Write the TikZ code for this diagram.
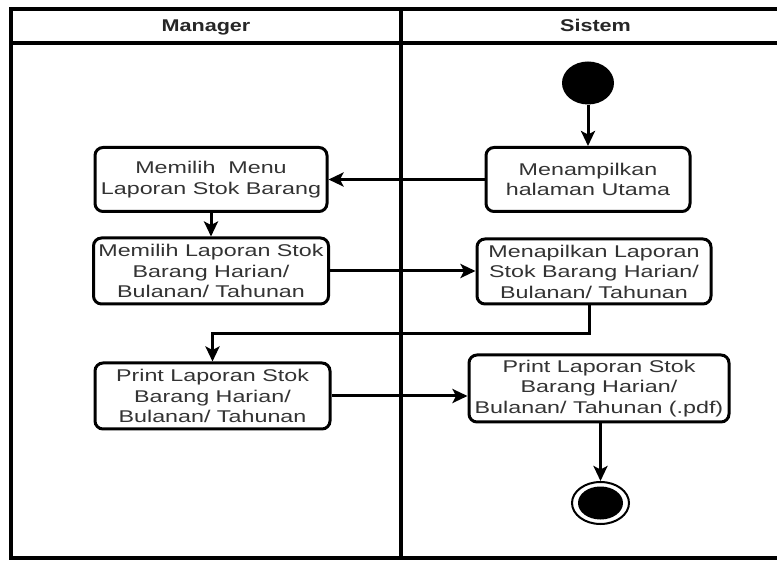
\documentclass[tikz,border=0pt]{standalone}
\usepackage{fontspec}
\setmainfont{Liberation Sans}
\newfontfamily\boxfont[FakeStretch=1.37]{Liberation Sans}
\newfontfamily\headfont[FakeStretch=1.27]{Liberation Sans}
\usetikzlibrary{arrows.meta,shapes.geometric}
\definecolor{txtgray}{HTML}{333333}
\tikzset{
  act/.style={draw=black, line width=3pt, rounded corners=8pt, fill=white,
    text=txtgray, align=center, inner sep=0pt,
    font=\boxfont\fontsize{17}{20.5}\selectfont},
  flow/.style={line width=3pt, -{Stealth[length=15pt,width=14pt,inset=3.5pt]}},
  lane/.style={line width=3.2pt},
  lanehead/.style={font=\headfont\bfseries\fontsize{17}{20}\selectfont, anchor=base, text=black!85},
  startdot/.style={ellipse, fill=black, inner sep=0pt, minimum width=52pt, minimum height=43pt},
  endring/.style={ellipse, draw=black, line width=2pt, fill=white, inner sep=0pt, minimum width=57pt, minimum height=42pt},
  enddot/.style={ellipse, fill=black, inner sep=0pt, minimum width=45pt, minimum height=33pt},
}
\begin{document}
\begin{tikzpicture}[x=1pt,y=-1pt]
\useasboundingbox (0,0) rectangle (777,561);

% swimlane frame
\draw[lane] (11,9) rectangle (790,558);
\draw[lane] (11,43) -- (790,43);
\draw[lane] (401,9) -- (401,558);
\node[lanehead] (hmgr) at (206,31.5) {Manager};
\node[lanehead] (hsys) at (595.5,31.5) {Sistem};

% activities
\node[startdot] (start) at (588,83) {};
\node[act, minimum width=204pt, minimum height=64pt] (utama) at (588,179.5)
  {Menampilkan\\halaman Utama};
\node[act, minimum width=232pt, minimum height=64pt] (menu) at (211,179.5)
  {Memilih\ \ Menu\\Laporan Stok Barang};
\node[act, minimum width=235pt, minimum height=66pt] (pilih) at (211,271)
  {Memilih Laporan Stok\\Barang Harian/\\Bulanan/ Tahunan};
\node[act, minimum width=234pt, minimum height=65pt] (tampil) at (594,271.5)
  {Menapilkan Laporan\\Stok Barang Harian/\\Bulanan/ Tahunan};
\node[act, minimum width=235pt, minimum height=66pt] (printm) at (212.5,396)
  {Print Laporan Stok\\Barang Harian/\\Bulanan/ Tahunan};
\node[act, minimum width=260pt, minimum height=67pt] (prints) at (599,388.5)
  {Print Laporan Stok\\Barang Harian/\\Bulanan/ Tahunan (.pdf)};
\node[endring] (endo) at (600.5,503) {};
\node[enddot] (endi) at (600.5,503) {};

% control flow
\coordinate (k1) at (589,334);
\draw[flow] (start.south) -- (utama.north);
\draw[flow] (utama.west) -- (menu.east);
\draw[flow] (menu.south) -- (pilih.north);
\draw[flow] (pilih.east) -- (pilih.east -| tampil.west);
\draw[flow] (tampil.south -| k1) -- (k1) -| (printm.north);
\draw[flow] (printm.east) -- (printm.east -| prints.west);
\draw[flow] (prints.south -| endo.north) -- (endo.north);
\end{tikzpicture}
\end{document}
